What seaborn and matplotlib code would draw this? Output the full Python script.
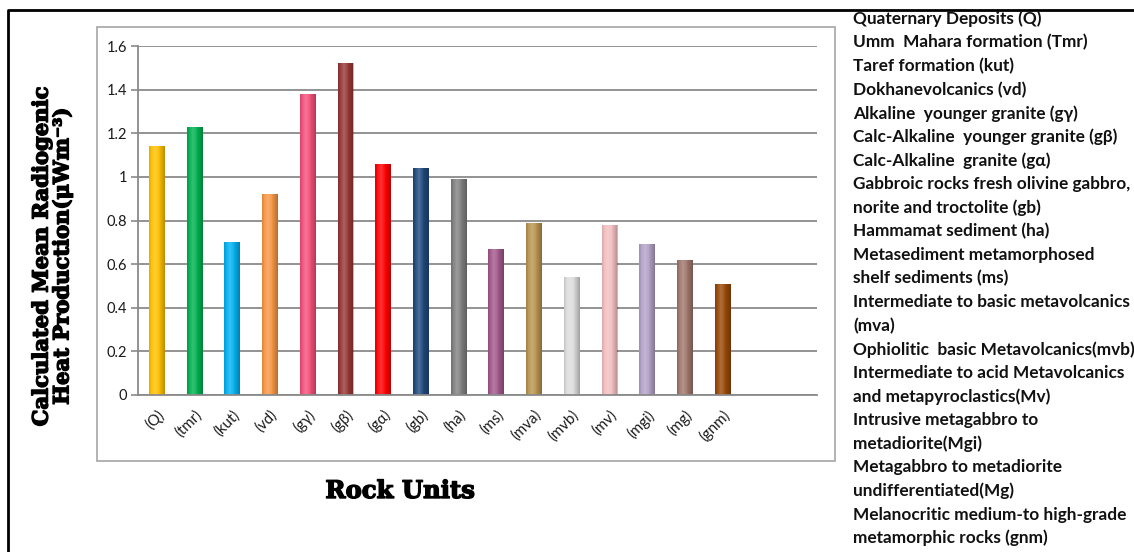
import matplotlib
matplotlib.use("Agg")
import matplotlib.pyplot as plt
import matplotlib.patheffects as pe
from matplotlib.lines import Line2D
from matplotlib.patches import Rectangle
import seaborn as sns
import numpy as np

# Rock unit codes shown on the category axis
rock_codes = ["(Q)", "(tmr)", "(kut)", "(vd)", "(gγ)", "(gβ)", "(gα)", "(gb)", "(ha)",
              "(ms)", "(mva)", "(mvb)", "(mv)", "(mgi)", "(mg)", "(gnm)"]

# Calculated mean radiogenic heat production (µW/m³)
heat_production = [1.14, 1.23, 0.70, 0.92, 1.38, 1.52, 1.06, 1.04, 0.99,
                   0.67, 0.79, 0.54, 0.78, 0.69, 0.62, 0.51]

bar_colors = ["#FFC000", "#00B050", "#00B0F0", "#F79646", "#F2507A", "#953735",
              "#FF0000", "#1F497D", "#808080", "#A2598C", "#B8944F", "#DCDCDC",
              "#F2BFC0", "#B3A2C7", "#A0766C", "#984807"]

# Full names listed beside the chart
unit_descriptions = [
    "Quaternary Deposits (Q)",
    "Umm  Mahara formation (Tmr)",
    "Taref formation (kut)",
    "Dokhanevolcanics (vd)",
    "Alkaline  younger granite (gγ)",
    "Calc-Alkaline  younger granite (gβ)",
    "Calc-Alkaline  granite (gα)",
    "Gabbroic rocks fresh olivine gabbro,",
    "norite and troctolite (gb)",
    "Hammamat sediment (ha)",
    "Metasediment metamorphosed",
    "shelf sediments (ms)",
    "Intermediate to basic metavolcanics",
    "(mva)",
    "Ophiolitic  basic Metavolcanics(mvb)",
    "Intermediate to acid Metavolcanics",
    "and metapyroclastics(Mv)",
    "Intrusive metagabbro to",
    "metadiorite(Mgi)",
    "Metagabbro to metadiorite",
    "undifferentiated(Mg)",
    "Melanocritic medium-to high-grade",
    "metamorphic rocks (gnm)",
]

y_ticks = [0, 0.2, 0.4, 0.6, 0.8, 1, 1.2, 1.4, 1.6]
y_tick_labels = ["0", "0.2", "0.4", "0.6", "0.8", "1", "1.2", "1.4", "1.6"]
n_slots = 18  # category slots on the axis (two trailing slots stay empty)

sns.set_theme(style="white")
plt.rcParams["font.family"] = ["Lato", "DejaVu Sans"]

W, H = 1134, 552
fig = plt.figure(figsize=(W / 100, H / 100), dpi=100)
fig.patch.set_facecolor("white")

def fx(px):
    return px / W

def fy(py):
    return 1 - py / H

ax_left, ax_right, ax_top, ax_bottom = 138, 817, 46, 395
ax = fig.add_axes([fx(ax_left), fy(ax_bottom), fx(ax_right - ax_left), (ax_bottom - ax_top) / H])

sns.barplot(x=rock_codes, y=heat_production, hue=rock_codes, palette=bar_colors,
            legend=False, width=0.42, saturation=1, ax=ax, edgecolor="none")

ax.set_xlim(-0.5, n_slots - 0.5)
ax.set_ylim(0, 1.6)

# Soft cylinder shading laid over each bar, clipped to the bar itself
u = np.linspace(0, 1, 64)
shade = np.zeros((1, 64, 4))
light = np.clip(1 - np.abs(u - 0.38) / 0.38, 0, 1) ** 1.5
dark = np.clip(np.abs(u - 0.38) / 0.62, 0, 1) ** 2
shade[0, :, :3] = np.where(light[:, None] > dark[:, None], 1.0, 0.0)
shade[0, :, 3] = np.maximum(light * 0.22, dark * 0.28)
for bar in list(ax.patches):
    x0, y0 = bar.get_x(), bar.get_y()
    im = ax.imshow(shade, extent=(x0, x0 + bar.get_width(), y0, y0 + bar.get_height()),
                   aspect="auto", interpolation="bilinear", zorder=bar.get_zorder() + 0.1)
    im.set_clip_path(bar)
ax.set_xlim(-0.5, n_slots - 0.5)
ax.set_ylim(0, 1.6)
ax.set_aspect("auto")

ax.set_yticks(y_ticks)
ax.set_yticklabels(y_tick_labels, fontsize=10.5, color="#1a1a1a")
ax.set_xticks(range(len(rock_codes)))
ax.set_xticklabels(rock_codes, rotation=45, ha="right", va="top",
                   rotation_mode="anchor", fontsize=10.8, color="#1a1a1a")
ax.tick_params(axis="x", which="major", length=0, pad=9)
ax.set_xticks(np.arange(n_slots + 1) - 0.5, minor=True)
ax.tick_params(axis="x", which="minor", length=5, width=1.2, color="#8a8a8a", direction="out")
ax.tick_params(axis="y", which="major", length=5, width=1.2, color="#8a8a8a",
               direction="out", pad=3, left=True)
ax.set_xlabel("")
ax.set_ylabel("")

ax.yaxis.grid(True, color="#8a8a8a", linewidth=1.3)
ax.xaxis.grid(False)
ax.set_axisbelow(True)
for side in ["top", "right"]:
    ax.spines[side].set_visible(False)
for side in ["left", "bottom"]:
    ax.spines[side].set_color("#8a8a8a")
    ax.spines[side].set_linewidth(1.3)

# Chart-area frame and outer page border
fig.add_artist(Rectangle((fx(97), fy(461)), fx(835 - 97), (461 - 27) / H,
                         transform=fig.transFigure, fill=False,
                         edgecolor="#a6a6a6", linewidth=1.2))
fig.add_artist(Line2D([fx(8), fx(8), 1.0], [0.0, fy(10), fy(10)],
                      transform=fig.transFigure, color="black", linewidth=2))

serif_bold = ["DejaVu Serif", "Liberation Serif"]
heavy = [pe.withStroke(linewidth=1.0, foreground="black")]

fig.text(fx(52), fy(256),
         "Calculated Mean Radiogenic\nHeat Production(\u03bcWm\u207b\u00b3)",
         rotation=90, ha="center", va="center", multialignment="center",
         fontsize=15.2, fontweight="bold", family=serif_bold, color="black",
         linespacing=1.05, path_effects=heavy)

fig.text(fx(400), fy(491), "Rock Units", ha="center", va="center",
         fontsize=17.5, fontweight="bold", family=serif_bold, color="black",
         path_effects=heavy)

line_y0, line_step = 19, 23.6
for i, line in enumerate(unit_descriptions):
    fig.text(fx(853), fy(line_y0 + i * line_step), line, ha="left", va="center",
             fontsize=12.4, fontweight="bold", color="#111111")

fig.savefig("out.png", dpi=100, facecolor="white")
